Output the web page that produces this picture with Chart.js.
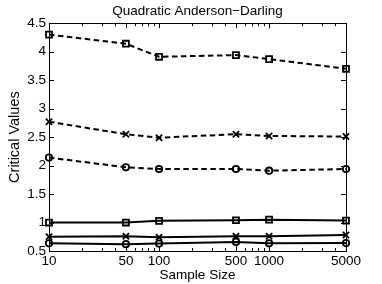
<!DOCTYPE html>
<html>
<head>
<meta charset="utf-8">
<script src="https://cdn.jsdelivr.net/npm/chart.js@4"></script>
<style>
  html, body { margin: 0; padding: 0; background: #fff; }
  #wrap { width: 382px; height: 284px; }
</style>
</head>
<body>
<div id="wrap"><canvas id="chart"></canvas></div>
<script>
// =======================
// Data
// =======================
const sampleSizes = [10, 50, 100, 500, 1000, 5000];
const xTicks = [10, 50, 100, 500, 1000, 5000];
const xMinorTicks = [20, 30, 40, 60, 70, 80, 90, 200, 300, 400, 600, 700, 800, 900, 2000, 3000, 4000];
const yTicks = [0.5, 1, 1.5, 2, 2.5, 3, 3.5, 4, 4.5];

// dashed series
const dashedSquare = [4.30, 4.14, 3.91, 3.94, 3.87, 3.70];
const dashedCross = [2.77, 2.55, 2.49, 2.55, 2.52, 2.51];
const dashedCircle = [2.14, 1.97, 1.94, 1.94, 1.91, 1.94];
// solid series
const solidSquare = [1.00, 1.00, 1.03, 1.04, 1.05, 1.035];
const solidCross = [0.75, 0.76, 0.74, 0.76, 0.76, 0.78];
const solidCircle = [0.635, 0.62, 0.63, 0.66, 0.635, 0.64];

const FONT = "'Liberation Sans', Arial, Helvetica, sans-serif";
const markerSize = { rect: 4.2, crossRot: 4.4, circle: 3.2 };

function makeSet(label, values, style, dashed) {
  return {
    label: label,
    data: values.map((v, i) => ({ x: sampleSizes[i], y: v })),
    borderColor: '#000',
    borderWidth: 2,
    borderDash: dashed ? [5.5, 3.5] : [],
    pointStyle: style,
    pointRadius: markerSize[style],
    pointBorderWidth: 1.8,
    pointBorderColor: '#000',
    pointBackgroundColor: 'rgba(0,0,0,0)',
    tension: 0,
    fill: false,
    clip: false
  };
}

// =======================
// Box + inward ticks (MATLAB look)
// =======================
const boxPlugin = {
  id: 'box',
  beforeDatasetsDraw(chart) {
    const { ctx, chartArea: a, scales: { x, y } } = chart;
    ctx.save();
    ctx.strokeStyle = '#000';
    ctx.lineWidth = 1;
    ctx.beginPath();
    xTicks.forEach(v => {
      const px = Math.round(x.getPixelForValue(v)) + 0.5;
      ctx.moveTo(px, a.bottom); ctx.lineTo(px, a.bottom - 5);
      ctx.moveTo(px, a.top); ctx.lineTo(px, a.top + 5);
    });
    xMinorTicks.forEach(v => {
      const px = Math.round(x.getPixelForValue(v)) + 0.5;
      ctx.moveTo(px, a.bottom); ctx.lineTo(px, a.bottom - 3);
      ctx.moveTo(px, a.top); ctx.lineTo(px, a.top + 3);
    });
    yTicks.forEach(v => {
      const py = Math.round(y.getPixelForValue(v)) + 0.5;
      ctx.moveTo(a.left, py); ctx.lineTo(a.left + 5, py);
      ctx.moveTo(a.right, py); ctx.lineTo(a.right - 5, py);
    });
    ctx.stroke();
    ctx.strokeRect(Math.round(a.left) + 0.5, Math.round(a.top) + 0.5,
      Math.round(a.width), Math.round(a.height));
    ctx.restore();
  }
};

new Chart(document.getElementById('chart'), {
  type: 'line',
  data: {
    datasets: [
      makeSet('dashed square', dashedSquare, 'rect', true),
      makeSet('dashed cross', dashedCross, 'crossRot', true),
      makeSet('dashed circle', dashedCircle, 'circle', true),
      makeSet('solid square', solidSquare, 'rect', false),
      makeSet('solid cross', solidCross, 'crossRot', false),
      makeSet('solid circle', solidCircle, 'circle', false)
    ]
  },
  options: {
    responsive: true,
    maintainAspectRatio: false,
    animation: false,
    layout: { padding: { left: 0, right: 36, top: 0, bottom: 0 } },
    plugins: {
      legend: { display: false },
      tooltip: { enabled: false },
      title: {
        display: true,
        fullSize: false,
        text: 'Quadratic Anderson\u2212Darling',
        color: '#000',
        font: { family: FONT, size: 13.5, weight: 'normal' },
        padding: { top: 3, bottom: 4 }
      }
    },
    scales: {
      x: {
        type: 'logarithmic',
        min: 10,
        max: 5000,
        afterBuildTicks: s => { s.ticks = xTicks.map(v => ({ value: v })); },
        afterFit: s => { s.height = 33; },
        grid: { display: false, drawTicks: false },
        border: { display: false },
        ticks: {
          color: '#000',
          padding: 2,
          maxRotation: 0,
          autoSkip: false,
          font: { family: FONT, size: 13.5 },
          callback: v => String(v)
        },
        title: {
          display: true,
          text: 'Sample Size',
          color: '#000',
          font: { family: FONT, size: 13.5 },
          padding: { top: 0, bottom: 1 }
        }
      },
      y: {
        min: 0.5,
        max: 4.5,
        afterBuildTicks: s => { s.ticks = yTicks.map(v => ({ value: v })); },
        afterFit: s => { s.width = 49; },
        grid: { display: false, drawTicks: false },
        border: { display: false },
        ticks: {
          color: '#000',
          padding: 3,
          font: { family: FONT, size: 13.5 },
          callback: v => String(v)
        },
        title: {
          display: true,
          text: 'Critical Values',
          color: '#000',
          font: { family: FONT, size: 14.5 },
          padding: { top: 6, bottom: 0 }
        }
      }
    }
  },
  plugins: [boxPlugin]
});
</script>
</body>
</html>
